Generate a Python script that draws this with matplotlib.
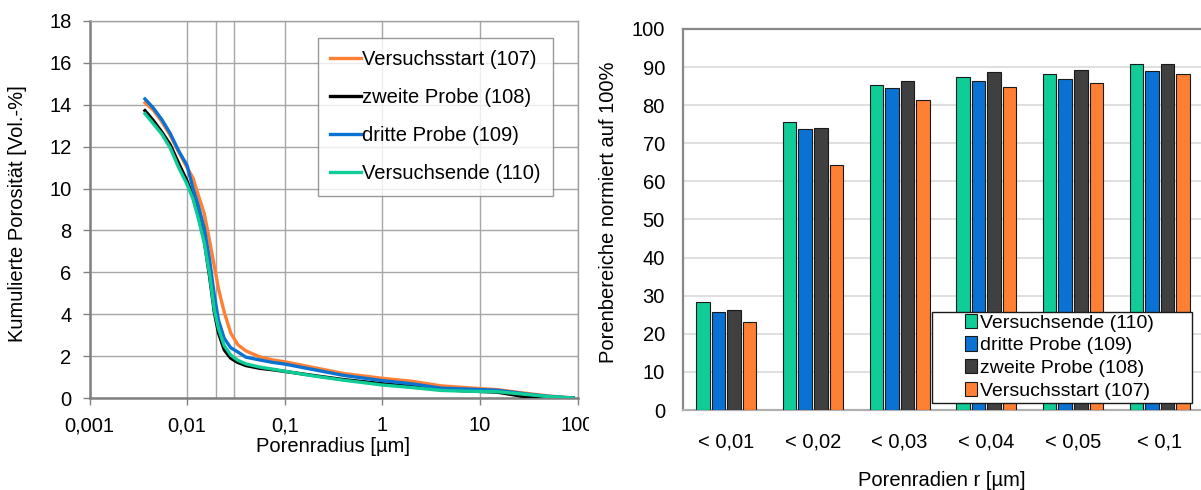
import matplotlib
matplotlib.use('Agg')
import matplotlib.pyplot as plt
from matplotlib.patches import Rectangle
import numpy as np

plt.rcParams['font.family'] = ['Liberation Sans', 'DejaVu Sans']

# Kumulierte Porosität [Vol.-%] über Porenradius [µm]
radius = [0.0037, 0.0045, 0.0055, 0.0067, 0.0082, 0.0100, 0.0115, 0.0130, 0.0150,
          0.0170, 0.0190, 0.0210, 0.0240, 0.0280, 0.0330, 0.0400, 0.0550, 0.0750,
          0.1, 0.2, 0.4, 1.0, 2.0, 4.0, 8.0, 15.0, 30.0, 50.0, 90.0]
poro_107 = [14.10, 13.75, 13.20, 12.55, 11.75, 11.00, 10.50, 9.70, 8.80,
            7.50, 6.30, 5.20, 4.10, 3.10, 2.55, 2.25, 1.97, 1.82,
            1.73, 1.45, 1.17, 0.94, 0.80, 0.58, 0.48, 0.40, 0.22, 0.10, 0.0]
poro_108 = [13.72, 13.25, 12.70, 12.10, 11.20, 10.35, 9.60, 8.70, 7.50,
            5.80, 4.10, 3.10, 2.30, 1.90, 1.70, 1.55, 1.42, 1.35,
            1.27, 1.07, 0.88, 0.68, 0.55, 0.40, 0.33, 0.28, 0.05, 0.0, 0.0]
poro_109 = [14.28, 13.85, 13.30, 12.64, 11.80, 11.10, 10.00, 9.20, 8.10,
            6.60, 4.90, 3.70, 2.85, 2.40, 2.20, 1.95, 1.82, 1.70,
            1.62, 1.35, 1.08, 0.83, 0.68, 0.47, 0.42, 0.37, 0.19, 0.08, 0.0]
poro_110 = [13.58, 13.10, 12.60, 11.95, 11.00, 10.20, 9.50, 8.60, 7.40,
            5.90, 4.20, 3.30, 2.50, 2.05, 1.80, 1.63, 1.48, 1.38,
            1.28, 1.05, 0.85, 0.62, 0.50, 0.36, 0.32, 0.30, 0.17, 0.07, 0.0]

# Porenbereiche normiert auf 100 %
klassen = ['< 0,01', '< 0,02', '< 0,03', '< 0,04', '< 0,05', '< 0,1']
anteil_110 = [28.4, 75.6, 85.3, 87.5, 88.3, 90.7]
anteil_109 = [25.6, 73.7, 84.5, 86.4, 86.9, 88.9]
anteil_108 = [26.3, 74.1, 86.3, 88.7, 89.3, 90.9]
anteil_107 = [23.2, 64.2, 81.4, 84.7, 85.7, 88.3]

c_107 = '#FF7F33'
c_108 = '#000000'
c_109 = '#0A72D2'
c_110 = '#10CC96'
c_108_bar = '#404040'

W, H = 1201, 490
fig = plt.figure(figsize=(W / 100, H / 100), dpi=100)
fs = 14.5

# ---- links: Kurven ----
ax1 = fig.add_axes([89.5 / W, 92 / H, 488 / W, 377 / H])
ax1.set_xscale('log')
ax1.set_xlim(0.001, 100)
ax1.set_ylim(0, 18)
ax1.set_yticks(np.arange(0, 19, 2))
ax1.set_xticks([0.001, 0.01, 0.1, 1, 10, 100])
ax1.set_xticklabels(['0,001', '0,01', '0,1', '1', '10', '100'])
ax1.xaxis.set_minor_locator(matplotlib.ticker.NullLocator())
ax1.grid(True, which='major', color='#A6A6A6', linewidth=1.0)
for xv in (0.02, 0.03):
    ax1.axvline(xv, color='#A6A6A6', linewidth=1.0, zorder=0.5)
ax1.set_axisbelow(True)
for s in ax1.spines.values():
    s.set_color('#A0A0A0')
    s.set_linewidth(1.0)
for s in ('left', 'bottom'):
    ax1.spines[s].set_color('#808080')
    ax1.spines[s].set_linewidth(1.8)
ax1.tick_params(axis='both', labelsize=fs, color='#808080', length=5, width=1,
                direction='out')
ax1.tick_params(axis='y', pad=8)
ax1.tick_params(axis='x', pad=8)

ax1.plot(radius, poro_107, color=c_107, lw=2.4, label='Versuchsstart (107)', zorder=3)
ax1.plot(radius, poro_108, color=c_108, lw=2.4, label='zweite Probe (108)', zorder=4)
ax1.plot(radius, poro_109, color=c_109, lw=2.4, label='dritte Probe (109)', zorder=5)
ax1.plot(radius, poro_110, color=c_110, lw=2.4, label='Versuchsende (110)', zorder=6)

ax1.set_xlabel('Porenradius [µm]', fontsize=fs)
ax1.set_ylabel('Kumulierte Porosität [Vol.-%]', fontsize=fs)
ax1.xaxis.set_label_coords(333 / W, 1 - 437 / H, transform=fig.transFigure)
ax1.yaxis.set_label_coords(27 / W, 1 - 214 / H, transform=fig.transFigure)

leg1 = ax1.legend(loc='upper left', bbox_to_anchor=(318 / W, 1 - 38 / H),
                  bbox_transform=fig.transFigure, fontsize=fs, frameon=True,
                  fancybox=False, edgecolor='#808080', handlelength=1.55,
                  handletextpad=0.05, labelspacing=0.95, borderpad=0.6,
                  borderaxespad=0)
leg1.get_frame().set_linewidth(1.0)

# ---- rechts: Balken ----
ax2 = fig.add_axes([683 / W, 80 / H, 520 / W, 381 / H])
x = np.arange(len(klassen))
bw, step = 0.155, 0.18
serien = [(anteil_110, c_110, 'Versuchsende (110)'),
          (anteil_109, c_109, 'dritte Probe (109)'),
          (anteil_108, c_108_bar, 'zweite Probe (108)'),
          (anteil_107, c_107, 'Versuchsstart (107)')]
for i, (vals, col, lab) in enumerate(serien):
    ax2.bar(x + (i - 1.5) * step, vals, width=bw, color=col, edgecolor='#1A1A1A',
            linewidth=0.8, label=lab, zorder=3)
ax2.set_xlim(-0.5, len(klassen) - 0.5)
ax2.set_ylim(0, 100)
ax2.set_yticks(np.arange(0, 101, 10))
ax2.set_xticks(x)
ax2.set_xticklabels(klassen)
ax2.yaxis.grid(True, color='#D9D9D9', linewidth=1.2)
ax2.set_axisbelow(True)
for s in ax2.spines.values():
    s.set_color('#888888')
    s.set_linewidth(1.6)
ax2.spines['bottom'].set_color('#B0B0B0')
ax2.tick_params(axis='both', length=0, labelsize=fs)
ax2.tick_params(axis='y', pad=13)
ax2.tick_params(axis='x', pad=16)
ax2.set_ylabel('Porenbereiche normiert auf 100%', fontsize=fs)
ax2.set_xlabel('Porenradien r [µm]', fontsize=fs)
ax2.yaxis.set_label_coords(618 / W, 1 - 212 / H, transform=fig.transFigure)
ax2.xaxis.set_label_coords(942 / W, 1 - 471 / H, transform=fig.transFigure)

# Legendenrahmen liegt über den Balken
ax2.add_patch(Rectangle((932 / W, 1 - 403 / H), 260 / W, 91 / H,
                        transform=fig.transFigure, facecolor='white',
                        edgecolor='#1A1A1A', linewidth=1.0, zorder=4,
                        clip_on=False))
leg2 = ax2.legend(loc='upper left', bbox_to_anchor=(961 / W, 1 - 310 / H),
                  bbox_transform=fig.transFigure, fontsize=14, frameon=False,
                  handlelength=0.6, handleheight=0.75, handletextpad=0.2,
                  labelspacing=0.24, borderpad=0.2, borderaxespad=0)
leg2.set_zorder(5)

# abgeschnittene Beschriftung am rechten Rand des linken Diagramms
fig.add_artist(Rectangle((589 / W, 0), 10 / W, 0.3, transform=fig.transFigure,
                         facecolor='white', edgecolor='none', zorder=10))

fig.savefig('out.png', dpi=100)
